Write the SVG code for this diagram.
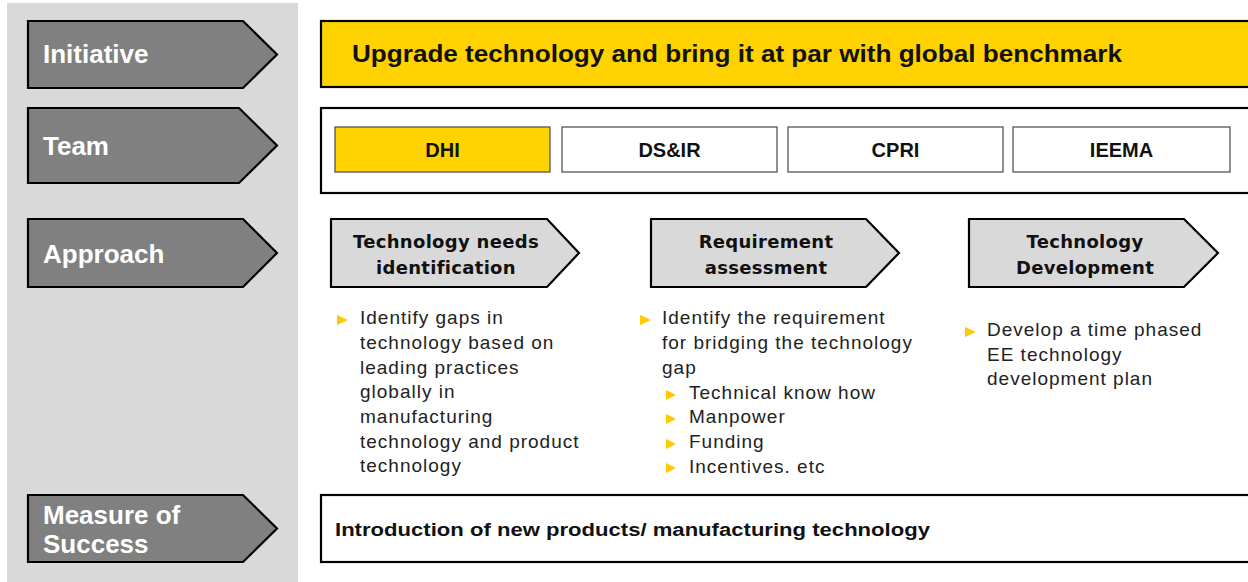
<svg xmlns="http://www.w3.org/2000/svg" width="1248" height="582" viewBox="0 0 1248 582">
<style>
.lbl{fill:#808080;stroke:#000;stroke-width:2.2}
.lbltxt{font-family:"Liberation Sans",Arial,sans-serif;font-weight:bold;font-size:26px;fill:#fff}
.box{fill:#fff;stroke:#000;stroke-width:2.2}
.team{fill:#fff;stroke:#555;stroke-width:1.3}
.teamtxt{font-family:"Liberation Sans",Arial,sans-serif;font-weight:bold;font-size:20px;fill:#111;text-anchor:middle}
.chev{fill:#d9d9d9;stroke:#000;stroke-width:2.2}
.chevtxt{font-family:"DejaVu Sans",sans-serif;font-weight:bold;font-size:18px;fill:#111;text-anchor:middle;letter-spacing:0.3px}
.bt{font-family:"Liberation Sans",Arial,sans-serif;font-size:19px;fill:#222;letter-spacing:1px}
.tri{fill:#FFC800}
</style>
<rect x="7" y="3" width="291" height="579" fill="#d9d9d9"/>

<g id="label-initiative">
<polygon class="lbl" points="28,21 243,21 277,54.5 243,88 28,88"/>
<text class="lbltxt" x="43" y="63">Initiative</text>
</g>
<g id="label-team">
<polygon class="lbl" points="28,108 239,108 277,145.5 239,183 28,183"/>
<text class="lbltxt" x="43" y="155">Team</text>
</g>
<g id="label-approach">
<polygon class="lbl" points="28,219 243,219 277,253 243,287 28,287"/>
<text class="lbltxt" x="43" y="263">Approach</text>
</g>
<g id="label-measure">
<polygon class="lbl" points="28,495 243,495 277,528.5 243,562 28,562"/>
<text class="lbltxt" x="43" y="524">Measure of</text>
<text class="lbltxt" x="43" y="553">Success</text>
</g>

<g id="initiative">
<rect x="321" y="21" width="940" height="66" fill="#FFD200" stroke="#000" stroke-width="2.2"/>
<text x="352" y="62" font-family="Liberation Sans, Arial, sans-serif" font-weight="bold" font-size="24" fill="#111" textLength="770" lengthAdjust="spacingAndGlyphs">Upgrade technology and bring it at par with global benchmark</text>
</g>

<g id="team">
<rect class="box" x="321" y="108" width="940" height="85"/>
<g id="team-dhi"><rect x="335" y="127" width="215" height="45" fill="#FFD200" stroke="#555" stroke-width="1.3"/><text class="teamtxt" x="442.5" y="157">DHI</text></g>
<g id="team-dsir"><rect class="team" x="562" y="127" width="215" height="45"/><text class="teamtxt" x="669.5" y="157">DS&amp;IR</text></g>
<g id="team-cpri"><rect class="team" x="788" y="127" width="215" height="45"/><text class="teamtxt" x="895.5" y="157">CPRI</text></g>
<g id="team-ieema"><rect class="team" x="1013" y="127" width="217" height="45"/><text class="teamtxt" x="1121.5" y="157">IEEMA</text></g>
</g>

<g id="approach-1">
<polygon class="chev" points="331,219 547,219 579,253 547,287 331,287"/>
<text class="chevtxt" x="446" y="248">Technology needs</text>
<text class="chevtxt" x="446" y="274">identification</text>
<polygon class="tri" points="337,315 348,320 337,325"/>
<text class="bt" x="360" y="324">Identify gaps in</text>
<text class="bt" x="360" y="349">technology based on</text>
<text class="bt" x="360" y="373.5">leading practices</text>
<text class="bt" x="360" y="398">globally in</text>
<text class="bt" x="360" y="422.5">manufacturing</text>
<text class="bt" x="360" y="447.5">technology and product</text>
<text class="bt" x="360" y="472">technology</text>
</g>

<g id="approach-2">
<polygon class="chev" points="651,219 866,219 899,253 866,287 651,287"/>
<text class="chevtxt" x="766" y="248">Requirement</text>
<text class="chevtxt" x="766" y="274">assessment</text>
<polygon class="tri" points="640,315 651,320 640,325"/>
<text class="bt" x="662" y="324">Identify the requirement</text>
<text class="bt" x="662" y="349">for bridging the technology</text>
<text class="bt" x="662" y="374">gap</text>
<polygon class="tri" points="666,390 676,395 666,400"/>
<text class="bt" x="689" y="399">Technical know how</text>
<polygon class="tri" points="666,414 676,419 666,424"/>
<text class="bt" x="689" y="423">Manpower</text>
<polygon class="tri" points="666,439 676,444 666,449"/>
<text class="bt" x="689" y="448">Funding</text>
<polygon class="tri" points="666,463 676,468 666,473"/>
<text class="bt" x="689" y="472.5">Incentives. etc</text>
</g>

<g id="approach-3">
<polygon class="chev" points="969,219 1184,219 1218,253 1184,287 969,287"/>
<text class="chevtxt" x="1085" y="248">Technology</text>
<text class="chevtxt" x="1085" y="274">Development</text>
<polygon class="tri" points="965,327 976,332 965,337"/>
<text class="bt" x="987" y="336">Develop a time phased</text>
<text class="bt" x="987" y="360.5">EE technology</text>
<text class="bt" x="987" y="385">development plan</text>
</g>

<g id="measure">
<rect class="box" x="321" y="495" width="940" height="67"/>
<text x="335" y="536" font-family="Liberation Sans, Arial, sans-serif" font-weight="bold" font-size="18" fill="#111" textLength="595" lengthAdjust="spacingAndGlyphs">Introduction of new products/ manufacturing technology</text>
</g>

<g id="connectors"></g>
</svg>
